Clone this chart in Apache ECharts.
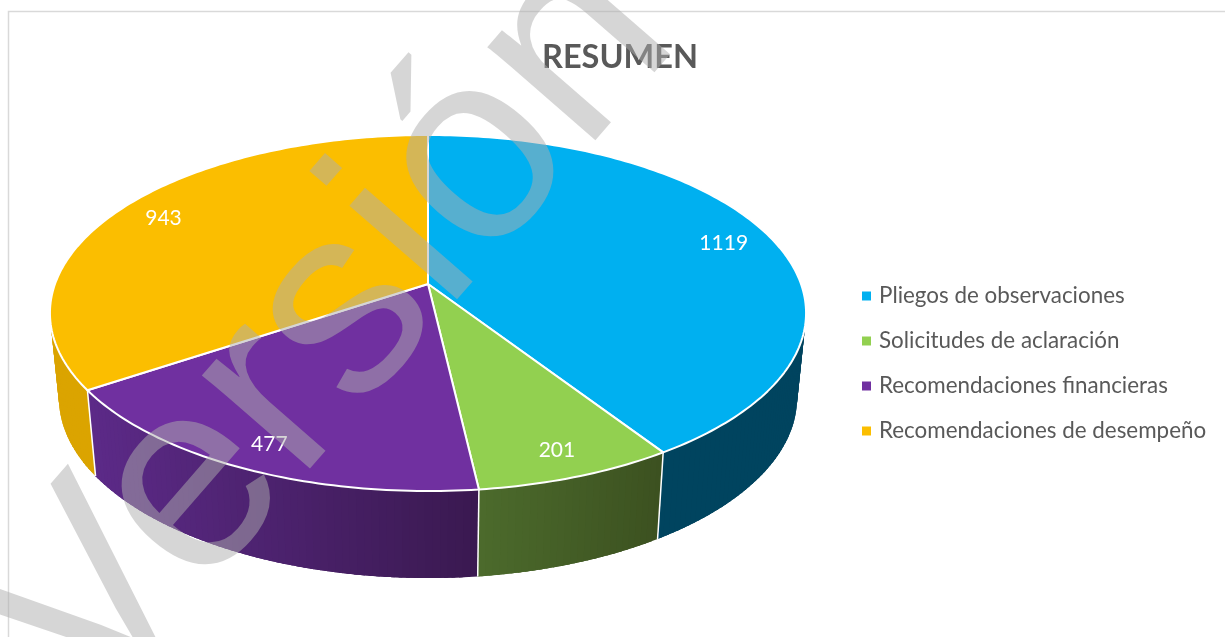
<!DOCTYPE html>
<html><head><meta charset="utf-8">
<style>html,body{margin:0;padding:0;background:#fff;overflow:hidden}#c{width:1225px;height:637px}</style>
<script src="https://cdn.jsdelivr.net/npm/echarts@6/dist/echarts.min.js"></script>
</head><body><div id="c"></div>
<script>
var categories = ['Pliegos de observaciones','Solicitudes de aclaración','Recomendaciones financieras','Recomendaciones de desempeño'];
var values = [1119,201,477,943];
var topColors = ['#00B0F0','#92D050','#7030A0','#FBBE00'];
var sideColorsLeft = ['#00445F','#4C6B2C','#5C2A88','#DBA400'];
var sideColorsRight = ['#00445F','#3C5120','#3A1950','#DBA400'];
var titleText = 'RESUMEN';
var watermark = 'Versión';

var FONT = 'Lato, Carlito, sans-serif';
var total = values.reduce(function(a,b){return a+b;},0);
var K = -0.163, CX = 428;
function topPt(d,f){
  var t=d*Math.PI/180,u=Math.sin(t),v=-Math.cos(t),w=1+K*v,s=f===undefined?1:f;
  return [CX+373*u/w*s,284+173.3*v/w*s];
}
function botPt(d){
  var p=topPt(d),sn=(p[0]-CX)/378,cs=(313-p[1])/178;
  return [CX+369*sn,398-180*cs];
}
function range(i){
  var s=0; for(var j=0;j<i;j++) s+=values[j];
  return [s/total*360,(s+values[i])/total*360];
}
function sideShapes(i){
  var r=range(i), n=Math.ceil(r[1]-r[0]), out=[], step=(r[1]-r[0])/n;
  var xa=topPt(r[0])[0], xb=topPt(r[1])[0], lo=Math.min(xa,xb), hi=Math.max(xa,xb);
  for(var k=0;k<n;k++){
    var d0=r[0]+step*k, d1=Math.min(r[1],d0+step*2.5);
    var a=topPt(d0), b=topPt(d1), c=botPt(d1), e=botPt(d0);
    var mid=topPt(d0+step/2)[0];
    var t=Math.max(0,Math.min(1,(mid-lo)/(hi-lo)));
    var col=echarts.color.lerp(t,[sideColorsLeft[i],sideColorsRight[i]]);
    out.push({type:'polygon',shape:{points:[a,b,c,e]},style:{fill:col}});
  }
  out.push({type:'line',z2:3,shape:{x1:topPt(r[0])[0],y1:topPt(r[0])[1],x2:botPt(r[0])[0],y2:botPt(r[0])[1]},style:{stroke:'#fff',lineWidth:1.5}});
  return out;
}
function topPoints(i){
  var r=range(i), pts=[[CX,284]], n=Math.ceil(r[1]-r[0]);
  for(var k=0;k<=n;k++){pts.push(topPt(r[0]+(r[1]-r[0])*k/n));}
  return pts;
}
var series=[];
categories.forEach(function(name,i){
  series.push({type:'custom',name:name,coordinateSystem:'none',z:3,silent:true,
    itemStyle:{color:topColors[i]},data:[values[i]],
    renderItem:function(){
      var r=range(i), lp=topPt((r[0]+r[1])/2,0.865);
      return {type:'group',children:[
        {type:'polygon',shape:{points:topPoints(i)},style:{fill:topColors[i],stroke:'#fff',lineWidth:2,lineJoin:'round'}},
        {type:'text',x:lp[0],y:lp[1],z2:5,style:{text:String(values[i]),fill:'#fff',font:'21px '+FONT,textAlign:'center',textVerticalAlign:'middle'}}
      ]};
    }});
});
categories.forEach(function(name,i){
  series.push({type:'custom',name:name,coordinateSystem:'none',z:2,silent:true,
    itemStyle:{color:topColors[i]},data:[values[i]],
    renderItem:function(){
      return {type:'group',children:sideShapes(i)};
    }});
});
var chart=echarts.init(document.getElementById('c'),null,{renderer:'canvas'});
chart.setOption({
  animation:false,
  backgroundColor:'#fff',
  title:{text:titleText,left:615,top:36,textAlign:'center',textStyle:{fontFamily:FONT,fontSize:32.5,fontWeight:'bold',color:'#595959'}},
  legend:{orient:'vertical',left:857,top:280,itemWidth:9,itemHeight:9,itemGap:23,icon:'rect',selectedMode:false,
    data:categories,textStyle:{fontFamily:FONT,fontSize:22.4,color:'#595959',padding:[0,0,0,3]}},
  graphic:[
    {type:'rect',z:0,shape:{x:8.5,y:11.5,width:1300,height:700},style:{fill:'none',stroke:'#D9D9D9',lineWidth:1.5},silent:true},
    {type:'text',z:50,x:330,y:332,rotation:49*Math.PI/180,silent:true,
     style:{text:watermark,font:'270px "Liberation Sans", sans-serif',fill:'rgba(173,173,173,0.5)',textAlign:'center',textVerticalAlign:'middle'}}
  ],
  series:series
});
</script></body></html>
